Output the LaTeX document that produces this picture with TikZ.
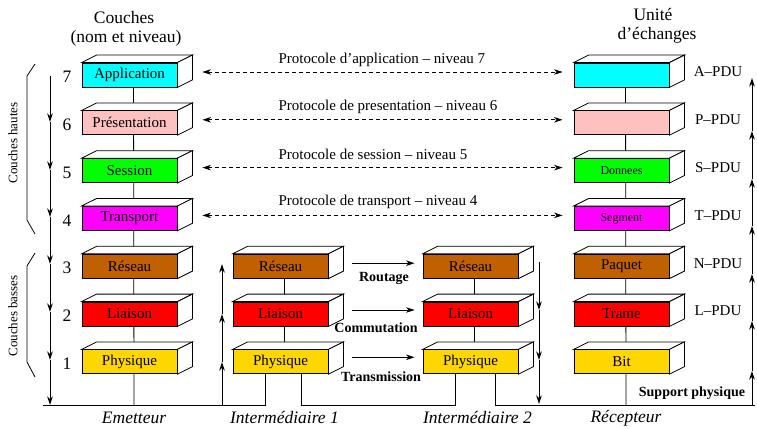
\documentclass[tikz,border=0pt]{standalone}
\usepackage{fontspec}
\setmainfont{Liberation Serif}
\usetikzlibrary{arrows.meta,backgrounds}
\definecolor{cA}{HTML}{00FFFF}
\definecolor{cP}{HTML}{FFC0C0}
\definecolor{cS}{HTML}{00FF00}
\definecolor{cT}{HTML}{FF00FF}
\definecolor{cN}{HTML}{C06000}
\definecolor{cL}{HTML}{FF0000}
\definecolor{cF}{HTML}{FFD700}
\newcommand\boxfaces[1]{%
  \draw[faceline,fill=white] (#1.north west) -- ([shift={(15,-7.5)}]#1.north west) -- ([shift={(15,-7.5)}]#1.north east) -- (#1.north east) -- cycle;
  \draw[faceline,fill=white] (#1.north east) -- ([shift={(15,-7.5)}]#1.north east) -- ([shift={(15,-7.5)}]#1.south east) -- (#1.south east) -- cycle;}
\begin{document}
\begin{tikzpicture}[x=1pt,y=-1pt,
  layer/.style={draw, line width=0.8pt, minimum width=95pt, minimum height=24pt, inner sep=0pt, font=\fontsize{15}{18}\selectfont},
  smalltxt/.style={font=\fontsize{12}{14}\selectfont},
  faceline/.style={line width=0.8pt, line join=miter},
  conn/.style={line width=0.8pt},
  tipA/.tip={Stealth[length=8.5pt,width=5.5pt,inset=2.5pt]},
  arr/.style={line width=1pt, -tipA},
  dasharr/.style={line width=0.9pt, dash pattern=on 4pt off 3pt, tipA-tipA},
  lbl/.style={font=\fontsize{15}{18}\selectfont},
  boldlbl/.style={font=\bfseries\fontsize{14}{16}\selectfont},
  ital/.style={font=\itshape\fontsize{17.5}{20}\selectfont},
  big/.style={font=\fontsize{17.5}{20}\selectfont},
  side/.style={font=\fontsize{13}{15}\selectfont, rotate=90}]
\useasboundingbox (0,0) rectangle (757,428);
\def\rA{75}\def\rP{122.8}\def\rS{170.6}\def\rT{218.4}\def\rN{266.2}\def\rL{314}\def\rF{361.8}
\def\xE{129.5}\def\xI{280.5}\def\xJ{470.5}\def\xR{621.5}
% titles
\node[big] (t1) at (124,18) {Couches};
\node[big] (t2) at (126,38) {(nom et niveau)};
\node[big] (t3) at (653,15) {Unité};
\node[big] (t4) at (657,35) {d’échanges};
% Emetteur
\node[layer,fill=cA] (e7) at (\xE,\rA) {Application};
\node[layer,fill=cP] (e6) at (\xE,\rP) {Présentation};
\node[layer,fill=cS] (e5) at (\xE,\rS) {Session};
\node[layer,fill=cT] (e4) at (\xE,\rT) {Transport};
\node[layer,fill=cN] (e3) at (\xE,\rN) {Réseau};
\node[layer,fill=cL] (e2) at (\xE,\rL) {Liaison};
\node[layer,fill=cF] (e1) at (\xE,\rF) {Physique};
% Intermediaire 1
\node[layer,fill=cN] (i3) at (\xI,\rN) {Réseau};
\node[layer,fill=cL] (i2) at (\xI,\rL) {Liaison};
\node[layer,fill=cF] (i1) at (\xI,\rF) {Physique};
% Intermediaire 2
\node[layer,fill=cN] (j3) at (\xJ,\rN) {Réseau};
\node[layer,fill=cL] (j2) at (\xJ,\rL) {Liaison};
\node[layer,fill=cF] (j1) at (\xJ,\rF) {Physique};
% Recepteur
\node[layer,fill=cA] (r7) at (\xR,\rA) {};
\node[layer,fill=cP] (r6) at (\xR,\rP) {};
\node[layer,fill=cS,smalltxt] (r5) at (\xR,\rS) {Donnees};
\node[layer,fill=cT,smalltxt] (r4) at (\xR,\rT) {Segment};
\node[layer,fill=cN] (r3) at (\xR,\rN) {Paquet};
\node[layer,fill=cL] (r2) at (\xR,\rL) {Trame};
\node[layer,fill=cF] (r1) at (\xR,\rF) {Bit};
\foreach \n in {e7,e6,e5,e4,e3,e2,e1,i3,i2,i1,j3,j2,j1,r7,r6,r5,r4,r3,r2,r1} {\boxfaces{\n}}
% baseline coordinates
\coordinate (b0) at (43,405);
\coordinate (eB) at (134,405);
\coordinate (ia) at (265,405);
\coordinate (ib) at (301,405);
\coordinate (ja) at (455,405);
\coordinate (jb) at (495,405);
\coordinate (rB) at (626,405);
\coordinate (bE) at (755,405);
\begin{scope}[on background layer]
  \draw[conn] ([xshift=4pt]e7.center) -- (eB);
  \draw[conn] ([xshift=4pt]i3.center) -- ([xshift=4pt]i1.center);
  \draw[conn] ([xshift=4pt]j3.center) -- ([xshift=4pt]j1.center);
  \draw[conn] ([xshift=4pt]r7.center) -- (rB);
\end{scope}
\draw[conn] (b0) -- (ia) -- (ia |- i1.south);
\draw[conn] (i1.south -| ib) -- (ib) -- (ja) -- (ja |- j1.south);
\draw[conn] (j1.south -| jb) -- (jb) -- (bE);
% level numbers
\foreach \k/\y in {7/\rA,6/\rP,5/\rS,4/\rT,3/\rN,2/\rL,1/\rF}
  \node[big] (num\k) at (67,\y+2) {\k};
% PDU labels
\foreach \nm/\t/\y in {pa/A/\rA,pp/P/\rP,ps/S/\rS,pt/T/\rT,pn/N/\rN,pl/L/\rL}
  \node[lbl] (\nm) at (718,\y-3) {\t–PDU};
% protocol arrows
\foreach \a/\b/\txt/\y in {e7/r7/{Protocole d’application – niveau 7}/60,
                           e6/r6/{Protocole de presentation – niveau 6}/107,
                           e5/r5/{Protocole de session – niveau 5}/154,
                           e4/r4/{Protocole de transport – niveau 4}/202} {
  \draw[dasharr] ([shift={(25,-3)}]\a.east) -- ([shift={(-11,-3)}]\b.west);
  \node[lbl,anchor=west] at (275,\y) {\txt};
}
% routing arrows
\draw[arr] ([shift={(24,-3)}]i3.east) -- ([shift={(-8,-3)}]j3.west);
\draw[arr] ([shift={(24,-4)}]i2.east) -- ([shift={(-8,-4)}]j2.west);
\draw[arr] ([shift={(24,-4.5)}]i1.east) -- ([shift={(-8,-4.5)}]j1.west);
\node[boldlbl] (rt) at (384,278) {Routage};
\node[boldlbl] (cm) at (376,328) {Commutation};
\node[boldlbl] (tr) at (381,377) {Transmission};
\node[boldlbl] (sp) at (692,393) {Support physique};
% left down arrow
\foreach \y [count=\i] in {76,122,170,217,264,312,360,405} \coordinate (L\i) at (50,\y);
\foreach \i [evaluate=\i as \j using int(\i+1)] in {1,...,7} \draw[arr] (L\i) -- (L\j);
% right up arrow
\foreach \y [count=\i] in {405,371,321,274,226,179,131,78} \coordinate (R\i) at (752,\y);
\foreach \i [evaluate=\i as \j using int(\i+1)] in {1,...,7} \draw[arr] (R\i) -- (R\j);
% intermediaire 1 up arrow
\foreach \y [count=\i] in {405,362,314,264} \coordinate (U\i) at (222,\y);
\foreach \i [evaluate=\i as \j using int(\i+1)] in {1,...,3} \draw[arr] (U\i) -- (U\j);
% intermediaire 2 down arrow
\foreach \y [count=\i] in {262,310,360,404} \coordinate (D\i) at (539,\y);
\foreach \i [evaluate=\i as \j using int(\i+1)] in {1,...,3} \draw[arr] (D\i) -- (D\j);
% brackets
\draw[conn] (35,64) -- (27,76) -- (27,220) -- (35,234);
\draw[conn] (35,253) -- (27,266) -- (27,362) -- (35,377);
\node[side] (ch) at (13,143) {Couches hautes};
\node[side] (cb) at (13,316) {Couches basses};
% bottom labels
\node[ital] (le) at (134,418) {Emetteur};
\node[ital] (li) at (284.5,418) {Intermédiaire 1};
\node[ital] (lj) at (477.5,418) {Intermédiaire 2};
\node[ital] (lr) at (626,418) {Récepteur};
\end{tikzpicture}
\end{document}
